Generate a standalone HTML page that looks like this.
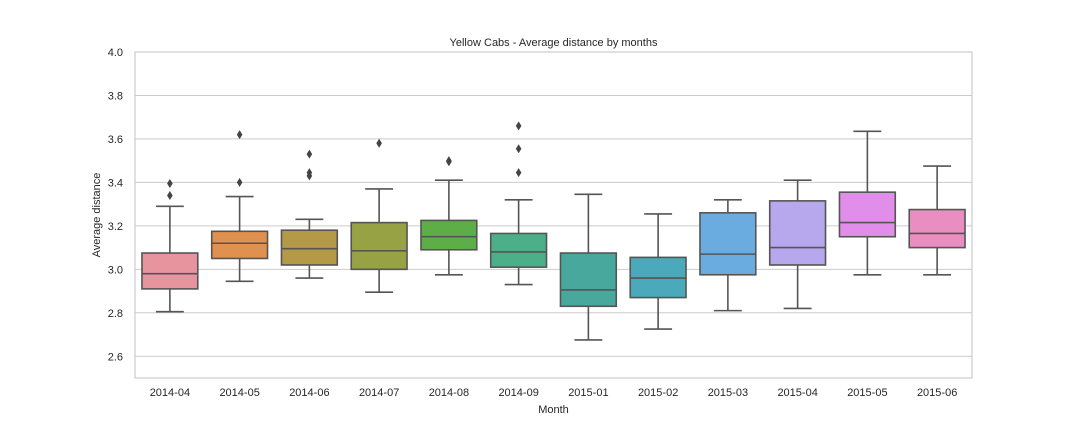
<!DOCTYPE html>
<html><head><meta charset="utf-8"><style>
body{margin:0;background:#fff;}
svg{display:block;font-family:"Liberation Sans",sans-serif;}
</style></head><body>
<svg id="c" width="1080" height="432"></svg>
<script>
const categories=["2014-04","2014-05","2014-06","2014-07","2014-08","2014-09","2015-01","2015-02","2015-03","2015-04","2015-05","2015-06"];
const mins=[2.805,2.945,2.96,2.895,2.975,2.93,2.675,2.725,2.81,2.82,2.975,2.975];
const q1s=[2.91,3.05,3.02,3.0,3.09,3.01,2.83,2.87,2.975,3.02,3.15,3.10];
const medians=[2.98,3.12,3.095,3.085,3.15,3.08,2.905,2.96,3.07,3.10,3.215,3.165];
const q3s=[3.075,3.175,3.18,3.215,3.225,3.165,3.075,3.055,3.26,3.315,3.355,3.275];
const maxs=[3.29,3.335,3.23,3.37,3.41,3.32,3.345,3.255,3.32,3.41,3.635,3.475];
const outliers=[[3.34,3.395],[3.40,3.62],[3.43,3.445,3.53],[3.58],[3.495,3.50],[3.445,3.555,3.66],[],[],[],[],[],[]];
const yTicks=[2.6,2.8,3.0,3.2,3.4,3.6,3.8,4.0];
const colors=["#e8949f","#e0904f","#b49947","#97a244","#5eae47","#4bb08a","#49a89d","#4aa9ba","#6aace0","#b7a7ec","#e08ee9","#e98ec1"];
const L=135,R=972,T=52,B=378,yMin=2.5,yMax=4.0;
const y=v=>B-(v-yMin)/(yMax-yMin)*(B-T);
const bw=(R-L)/categories.length;
const x=i=>L+bw*(i+0.5);
const svg=document.getElementById('c');
const NS="http://www.w3.org/2000/svg";
function mk(tag,attrs,parent){const e=document.createElementNS(NS,tag);for(const k in attrs)e.setAttribute(k,attrs[k]);(parent||svg).appendChild(e);return e;}
// grid
yTicks.forEach(t=>{
 const g=mk('line',{x1:L,x2:R,y1:y(t),y2:y(t),stroke:'#cccccc','stroke-width':1});
 
 
 const tx=mk('text',{x:L-12,y:y(t)+4,'text-anchor':'end','font-size':11,fill:'#262626'});
 tx.textContent=t.toFixed(1);
 
 
});
const frame=mk('rect',{x:L,y:T,width:R-L,height:B-T,fill:'none',stroke:'#cccccc','stroke-width':1.2});


const lc='#555555',lw=1.6;
categories.forEach((c,i)=>{
 const g=mk('g',{});
 
 
 const cx=x(i),hw=bw*0.4,cw=bw*0.2;
 mk('line',{x1:cx,x2:cx,y1:y(q3s[i]),y2:y(maxs[i]),stroke:lc,'stroke-width':lw},g);
 mk('line',{x1:cx,x2:cx,y1:y(q1s[i]),y2:y(mins[i]),stroke:lc,'stroke-width':lw},g);
 mk('line',{x1:cx-cw,x2:cx+cw,y1:y(maxs[i]),y2:y(maxs[i]),stroke:lc,'stroke-width':lw},g);
 mk('line',{x1:cx-cw,x2:cx+cw,y1:y(mins[i]),y2:y(mins[i]),stroke:lc,'stroke-width':lw},g);
 mk('rect',{x:cx-hw,y:y(q3s[i]),width:2*hw,height:y(q1s[i])-y(q3s[i]),fill:colors[i],stroke:lc,'stroke-width':lw},g);
 mk('line',{x1:cx-hw,x2:cx+hw,y1:y(medians[i]),y2:y(medians[i]),stroke:lc,'stroke-width':lw},g);
 outliers[i].forEach(o=>{
  const oy=y(o);
  const d=mk('path',{d:`M${cx} ${oy-4.5}L${cx+2.8} ${oy}L${cx} ${oy+4.5}L${cx-2.8} ${oy}Z`,fill:'#444'},g);
  
  
 });
 const tx=mk('text',{x:cx,y:B+18,'text-anchor':'middle','font-size':11,fill:'#262626'});
 tx.textContent=c;
 
 
});
const t=mk('text',{x:(L+R)/2,y:46,'text-anchor':'middle','font-size':11,fill:'#262626'});
t.textContent='Yellow Cabs - Average distance by months';


const xl=mk('text',{x:(L+R)/2,y:413,'text-anchor':'middle','font-size':11,fill:'#262626'});
xl.textContent='Month';


const yl=mk('text',{x:0,y:0,'text-anchor':'middle','font-size':11,fill:'#262626',transform:`translate(100,${(T+B)/2}) rotate(-90)`});
yl.textContent='Average distance';


</script>
</body></html>
